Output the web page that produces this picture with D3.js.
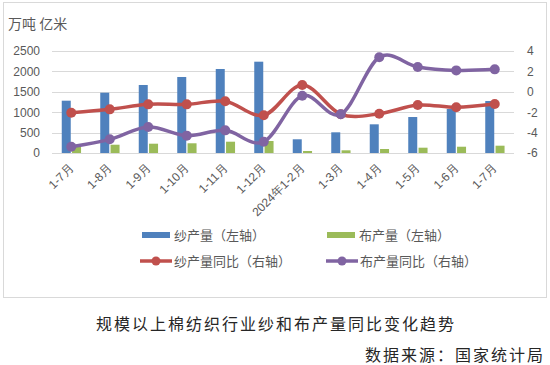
<!DOCTYPE html>
<html>
<head>
<meta charset="utf-8">
<script src="https://cdn.jsdelivr.net/npm/d3@7"></script>
<style>
  html, body { margin: 0; padding: 0; background: #fff; }
  svg { display: block; }
</style>
</head>
<body>
<svg id="chart" width="550" height="365"></svg>
<script>
const categories = ["1-7月","1-8月","1-9月","1-10月","1-11月","1-12月","2024年1-2月","1-3月","1-4月","1-5月","1-6月","1-7月"];
const yarnOutput = [1282, 1478, 1667, 1863, 2059, 2238, 336, 507, 703, 882, 1078, 1274];
const clothOutput = [179, 203, 228, 238, 277, 294, 49, 66, 98, 130, 154, 179];
const yarnYoY = [-2.05, -1.72, -1.23, -1.23, -0.93, -2.3, 0.67, -2.2, -2.15, -1.3, -1.52, -1.2];
const clothYoY = [-5.38, -4.66, -3.45, -4.3, -3.78, -4.9, -0.38, -2.2, 3.38, 2.43, 2.1, 2.2];
const leftTicks = [0, 500, 1000, 1500, 2000, 2500];
const rightTicks = [-6, -4, -2, 0, 2, 4];
const legendItems = [
  {label: "纱产量（左轴）", type: "bar", color: "#4F81BD"},
  {label: "布产量（左轴）", type: "bar", color: "#9BBB59"},
  {label: "纱产量同比（右轴）", type: "line", color: "#C0504D"},
  {label: "布产量同比（右轴）", type: "line", color: "#8064A2"}
];
const axisTitle = "万吨 亿米";
const caption = "规模以上棉纺织行业纱和布产量同比变化趋势";
const source = "数据来源：国家统计局";

const svg = d3.select("#chart");
const textColor = "#595959";
const tickFont = "'Liberation Sans', Arial, sans-serif";
const cjkFont = "'Noto Sans CJK SC', sans-serif";

// border
svg.append("rect").attr("x", 3.5).attr("y", 2.5).attr("width", 543).attr("height", 295)
  .attr("fill", "#fff").attr("stroke", "#d9d9d9").attr("stroke-width", 1);

const plot = {left: 52, right: 514, top: 51, bottom: 153};
const x = d3.scaleBand().domain(d3.range(categories.length)).range([plot.left, plot.right]);
const yL = d3.scaleLinear().domain([0, 2500]).range([plot.bottom, plot.top]);
const yR = d3.scaleLinear().domain([-6, 4]).range([plot.bottom, plot.top]);
const cx = i => x(i) + x.bandwidth() / 2;

// grid
svg.append("g").selectAll("line").data(leftTicks).join("line")
  .attr("x1", plot.left).attr("x2", plot.right)
  .attr("y1", d => Math.round(yL(d)) + 0.5).attr("y2", d => Math.round(yL(d)) + 0.5)
  .attr("stroke", "#d9d9d9").attr("stroke-width", 1);

// left axis labels
const axL = d3.axisLeft(yL).tickValues(leftTicks).tickFormat(d => String(d)).tickSize(0).tickPadding(0);
const gL = svg.append("g").attr("transform", `translate(40,0)`).call(axL);
gL.select(".domain").remove();
gL.selectAll("text").attr("font-family", tickFont).attr("font-size", 12).attr("fill", textColor);

// right axis labels
const axR = d3.axisRight(yR).tickValues(rightTicks).tickFormat(d => String(d)).tickSize(0).tickPadding(0);
const gR = svg.append("g").attr("transform", `translate(527,0)`).call(axR);
gR.select(".domain").remove();
gR.selectAll("text").attr("font-family", tickFont).attr("font-size", 12).attr("fill", textColor);

// bars
const bw = 9;
svg.append("g").selectAll("rect").data(yarnOutput).join("rect")
  .attr("x", (d, i) => cx(i) - 9.5).attr("width", bw)
  .attr("y", d => yL(d)).attr("height", d => yL(0) - yL(d))
  .attr("fill", "#4F81BD");
svg.append("g").selectAll("rect").data(clothOutput).join("rect")
  .attr("x", (d, i) => cx(i) + 0.8).attr("width", bw)
  .attr("y", d => yL(d)).attr("height", d => yL(0) - yL(d))
  .attr("fill", "#9BBB59");

// lines
function drawLine(data, color) {
  const line = d3.line().x((d, i) => cx(i)).y(d => yR(d)).curve(d3.curveCardinal.tension(0));
  svg.append("path").datum(data).attr("d", line).attr("fill", "none")
    .attr("stroke", color).attr("stroke-width", 3.5).attr("stroke-linejoin", "round").attr("stroke-linecap", "round");
  svg.append("g").selectAll("circle").data(data).join("circle")
    .attr("cx", (d, i) => cx(i)).attr("cy", d => yR(d)).attr("r", 5).attr("fill", color);
}
drawLine(yarnYoY, "#C0504D");
drawLine(clothYoY, "#8064A2");

// x labels
svg.append("g").selectAll("text").data(categories).join("text")
  .attr("transform", (d, i) => `translate(${cx(i) + 3},${169}) rotate(-45)`)
  .attr("text-anchor", "end")
  .attr("font-family", tickFont).attr("font-size", 12).attr("fill", textColor)
  .text(d => d);

// axis title
svg.append("text").attr("x", 8).attr("y", 29).attr("font-family", cjkFont).attr("font-size", 14)
  .attr("fill", textColor).text(axisTitle);

// legend
const legPos = [{x: 142, y: 235}, {x: 327, y: 235}, {x: 140, y: 261}, {x: 326, y: 261}];
const lg = svg.append("g").selectAll("g").data(legendItems).join("g")
  .attr("transform", (d, i) => `translate(${legPos[i].x},${legPos[i].y})`);
lg.filter(d => d.type === "bar").append("rect")
  .attr("x", 0).attr("y", -3).attr("width", 28).attr("height", 6).attr("fill", d => d.color);
lg.filter(d => d.type === "line").append("line")
  .attr("x1", 0).attr("x2", 32).attr("y1", 0).attr("y2", 0).attr("stroke", d => d.color).attr("stroke-width", 3.5);
lg.filter(d => d.type === "line").append("circle")
  .attr("cx", 16).attr("cy", 0).attr("r", 4.5).attr("fill", d => d.color);
lg.append("text").attr("x", d => d.type === "bar" ? 32 : 34).attr("y", 0).attr("dy", "0.35em")
  .attr("font-family", cjkFont).attr("font-size", 13).attr("fill", textColor)
  .text(d => d.label);

// caption
svg.append("text").attr("x", 276).attr("y", 324).attr("dy", "0.35em").attr("text-anchor", "middle")
  .attr("font-family", cjkFont).attr("font-size", 16).attr("letter-spacing", 2).attr("fill", "#262626")
  .text(caption);
svg.append("text").attr("x", 545).attr("y", 355).attr("dy", "0.35em").attr("text-anchor", "end")
  .attr("font-family", cjkFont).attr("font-size", 16).attr("letter-spacing", 2).attr("fill", "#262626")
  .text(source);
</script>
</body>
</html>
